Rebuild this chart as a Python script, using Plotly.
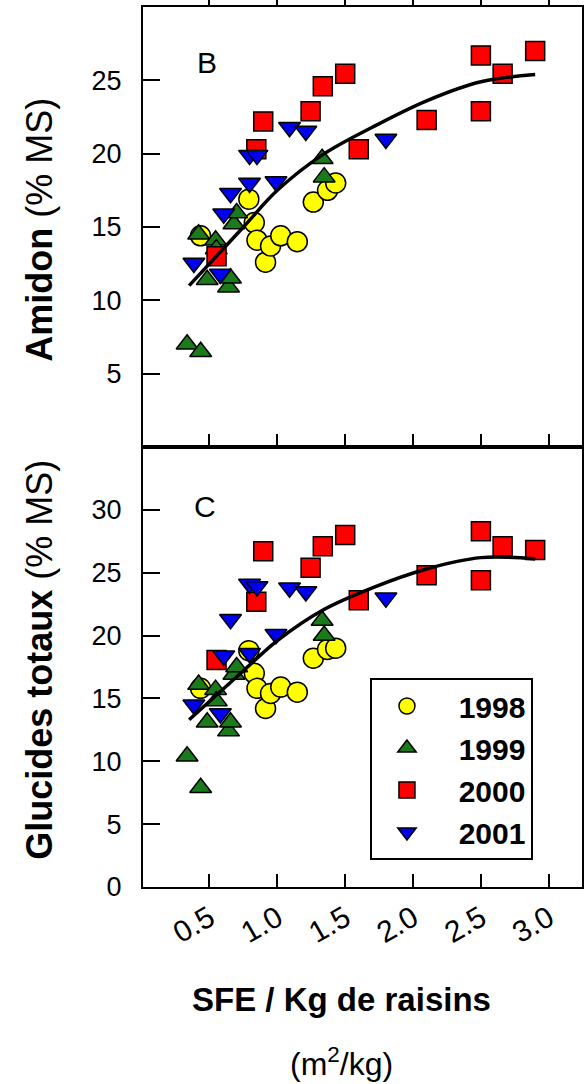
import plotly.graph_objects as go

# ---- data ----
x_1998 = [0.434, 0.79, 0.83, 0.85, 0.913, 0.95, 1.025, 1.147, 1.265, 1.37, 1.43]
amidon_1998 = [14.4, 16.9, 15.3, 14.1, 12.6, 13.7, 14.4, 14.0, 16.7, 17.5, 18.0]
glucides_1998 = [15.8, 18.8, 17.0, 15.8, 14.2, 15.4, 15.9, 15.5, 18.2, 18.9, 19.0]

x_1999 = [0.335, 0.42, 0.435, 0.483, 0.545, 0.55, 0.64, 0.655, 0.68, 0.70, 1.33, 1.345]
amidon_1999 = [7.0, 14.5, 6.5, 11.4, 14.1, 13.5, 10.9, 11.5, 15.2, 15.95, 19.65, 18.4]
glucides_1999 = [10.4, 16.1, 7.9, 13.1, 15.7, 14.8, 12.4, 13.1, 16.9, 17.5, 21.2, 20.0]

x_2000 = [0.552, 0.845, 0.896, 1.245, 1.335, 1.50, 1.60, 2.10, 2.50, 2.50, 2.66, 2.90]
amidon_2000 = [13.0, 20.3, 22.2, 22.9, 24.6, 25.45, 20.3, 22.3, 26.7, 22.9, 25.45, 27.0]
glucides_2000 = [18.05, 22.7, 26.7, 25.4, 27.1, 28.0, 22.8, 24.8, 28.3, 24.4, 27.1, 26.8]

x_2001 = [0.385, 0.58, 0.605, 0.655, 0.795, 0.795, 0.85, 0.99, 1.09, 1.21, 1.80]
amidon_2001 = [12.55, 11.8, 15.9, 17.3, 19.9, 18.0, 19.9, 18.1, 21.8, 21.55, 21.0]
glucides_2001 = [14.5, 13.8, 18.4, 21.3, 24.1, 18.6, 23.9, 20.1, 23.8, 23.5, 23.0]

curve_x = [0.35, 0.75, 1.0, 1.33, 1.7, 2.1, 2.5, 2.9]
amidon_fit = [11.0, 15.0, 17.5, 19.9, 21.8, 23.6, 24.9, 25.4]
glucides_fit = [13.3, 17.2, 19.6, 22.0, 23.8, 25.3, 26.2, 26.1]

years = ["1998", "1999", "2000", "2001"]
x_tick_vals = [0.5, 1.0, 1.5, 2.0, 2.5, 3.0]
x_tick_text = ["0.5", "1.0", "1.5", "2.0", "2.5", "3.0"]
amidon_ticks = [5, 10, 15, 20, 25]
glucides_ticks = [0, 5, 10, 15, 20, 25, 30]

FONT = "Liberation Sans, Arial, sans-serif"
styles = {
    "1998": dict(symbol="circle", color="#ffff00", size=20),
    "1999": dict(symbol="triangle-up", color="#1b7a1b", size=19),
    "2000": dict(symbol="square", color="#ff0000", size=19),
    "2001": dict(symbol="triangle-down", color="#0000f0", size=19),
}
series = {
    "1998": (x_1998, amidon_1998, glucides_1998),
    "1999": (x_1999, amidon_1999, glucides_1999),
    "2000": (x_2000, amidon_2000, glucides_2000),
    "2001": (x_2001, amidon_2001, glucides_2001),
}

fig = go.Figure()
for yr in years:
    xs, ya, yg = series[yr]
    st = styles[yr]
    mk = dict(symbol=st["symbol"], color=st["color"], size=st["size"],
              line=dict(color="black", width=1.5))
    fig.add_trace(go.Scatter(x=xs, y=ya, mode="markers", marker=mk, name=yr,
                             showlegend=False, xaxis="x", yaxis="y"))
    fig.add_trace(go.Scatter(x=xs, y=yg, mode="markers", marker=mk,
                             name="\u00a0\u00a0" + yr,
                             showlegend=True, xaxis="x2", yaxis="y2"))

fig.add_trace(go.Scatter(x=curve_x, y=amidon_fit, mode="lines", line=dict(color="black", width=3.5, shape="spline"),
                         showlegend=False, xaxis="x", yaxis="y"))
fig.add_trace(go.Scatter(x=curve_x, y=glucides_fit, mode="lines", line=dict(color="black", width=3.5, shape="spline"),
                         showlegend=False, xaxis="x2", yaxis="y2"))
# empty trace so the top tick axis renders
fig.add_trace(go.Scatter(x=[None], y=[None], xaxis="x3", yaxis="y", showlegend=False))

xr = [0.01, 3.245]
axis_common = dict(showline=True, linecolor="black", linewidth=2, mirror=True, automargin=False,
                   showgrid=False, zeroline=False, tickcolor="black", tickwidth=2)

fig.update_layout(
    width=588, height=1084,
    margin=dict(l=143, r=6, t=7, b=197, autoexpand=False),
    paper_bgcolor="white", plot_bgcolor="white",
    font=dict(family=FONT, color="black"),
    xaxis=dict(domain=[0, 1], range=xr, anchor="y", tickvals=x_tick_vals, ticks="inside",
               ticklen=13, showticklabels=False, **axis_common),
    xaxis3=dict(overlaying="x", anchor="y", side="top", range=xr, tickvals=x_tick_vals,
                ticks="outside", ticklen=7, tickwidth=2, tickcolor="black", automargin=False,
                showticklabels=False, showline=False, showgrid=False, zeroline=False),
    yaxis=dict(domain=[0.5, 1], range=[0, 30], anchor="x", tickvals=amidon_ticks, ticks="inside",
               ticklen=17, ticklabelstandoff=14, tickfont=dict(size=27), **axis_common),
    xaxis2=dict(domain=[0, 1], range=xr, anchor="y2", tickvals=x_tick_vals, ticktext=x_tick_text,
                ticks="inside", ticklen=13, tickangle=-30, tickfont=dict(size=30), **axis_common),
    yaxis2=dict(domain=[0, 0.5], range=[0, 35], anchor="x2", tickvals=glucides_ticks, ticks="inside",
                ticklen=17, ticklabelstandoff=14, tickfont=dict(size=27), **axis_common),
    legend=dict(x=0.517, y=0.2375, xanchor="left", yanchor="top", bgcolor="white",
                bordercolor="black", borderwidth=2, itemwidth=60,
                font=dict(size=30, weight="bold", family=FONT)),
)

ann = [
    dict(text="B", x=0.483, y=26.25, xref="x", yref="y", showarrow=False, font=dict(size=30)),
    dict(text="C", x=0.47, y=30.26, xref="x2", yref="y2", showarrow=False, font=dict(size=30)),
    dict(text="<b>Amidon</b> (% MS)", x=-0.235, y=0.7466, xref="paper", yref="paper", textangle=-90,
         showarrow=False, font=dict(size=36)),
    dict(text="<b>Glucides totaux</b> (% MS)", x=-0.235, y=0.258, xref="paper", yref="paper", textangle=-90,
         showarrow=False, font=dict(size=36)),
    dict(text="<b>SFE / Kg de raisins</b>", x=0.452, y=-0.128, xref="paper", yref="paper",
         showarrow=False, font=dict(size=33)),
    dict(text="(m<sup>2</sup>/kg)", x=0.452, y=-0.199, xref="paper", yref="paper",
         showarrow=False, font=dict(size=32)),
]
for a in ann:
    a["xanchor"] = "center"
    a["yanchor"] = "middle"
    a["font"]["family"] = FONT
    a["font"]["color"] = "black"
fig.update_layout(annotations=ann)

fig.write_html("out.html", config={"displayModeBar": False},
               post_script="document.body.style.margin='0';document.body.style.overflow='hidden';")
